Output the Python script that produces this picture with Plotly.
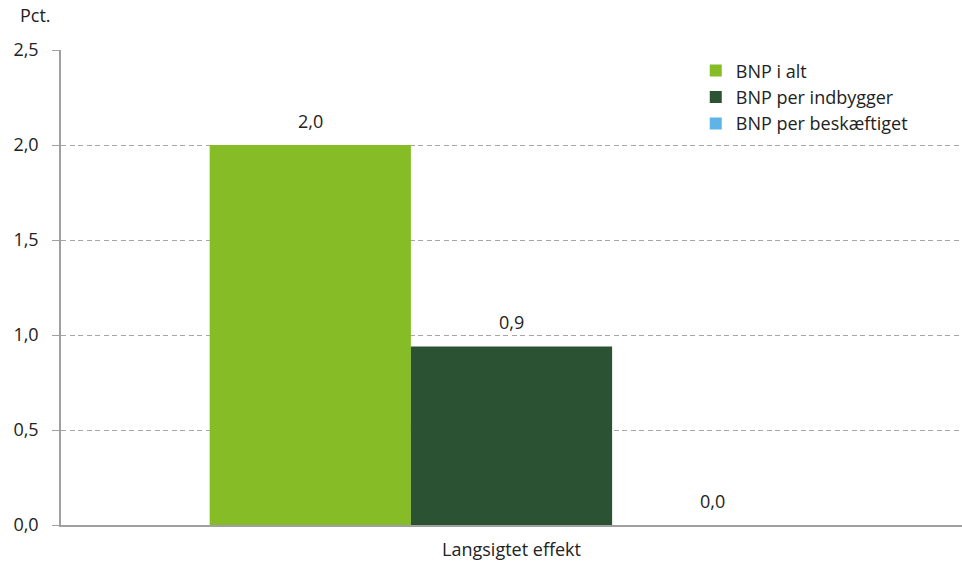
import plotly.graph_objects as go

categories = ["Langsigtet effekt"]
series_names = ["BNP i alt", "BNP per indbygger", "BNP per beskæftiget"]
series_values = [[2.0], [0.94], [0.0]]
series_labels = [["2,0"], ["0,9"], ["0,0"]]
colors = ["#86BC25", "#2C5234", "#5DB4E5"]
y_ticks = [0, 0.5, 1.0, 1.5, 2.0, 2.5]

FONT = "Open Sans"
FS = 18
TXT = "#222222"

x_idx = list(range(len(categories)))

fig = go.Figure()
for name, vals, col in zip(series_names, series_values, colors):
    fig.add_trace(go.Bar(
        x=x_idx, y=vals, name=name, marker=dict(color=col, line=dict(width=0)),
    ))

# value labels above bars (placed via data coordinates)
n = len(series_names)
bargap = 0.33
group_w = 1 - bargap
bar_w = group_w / n
for i, (vals, labs) in enumerate(zip(series_values, series_labels)):
    for j, (v, lab) in enumerate(zip(vals, labs)):
        xpos = x_idx[j] - group_w / 2 + bar_w * (i + 0.5)
        fig.add_annotation(x=xpos, y=v, xref="x", yref="y", text=lab, showarrow=False,
                           yanchor="bottom", yshift=10,
                           font=dict(family=FONT, size=FS, color=TXT))

fig.update_layout(
    width=962, height=567,
    margin=dict(l=61, r=0, t=50, b=42, autoexpand=False),
    barmode="group", bargap=bargap, bargroupgap=0,
    plot_bgcolor="white", paper_bgcolor="white",
    font=dict(family=FONT, size=FS, color=TXT),
    separators=",.",
    showlegend=True,
    legend=dict(x=0.7045, y=0.995, xanchor="left", yanchor="top",
                font=dict(family=FONT, size=FS, color=TXT),
                bgcolor="rgba(255,255,255,0)", itemwidth=30, tracegroupgap=0,
                traceorder="normal"),
    xaxis=dict(range=[-0.5, len(categories) - 0.5], tickvals=x_idx, ticktext=categories,
               showline=True, linecolor="#A0A0A0", linewidth=1.5,
               showgrid=False, zeroline=False, automargin=False,
               ticks="", ticklabelstandoff=8,
               tickfont=dict(family=FONT, size=FS, color=TXT)),
    yaxis=dict(range=[0, 2.5], tickvals=y_ticks, tickformat=".1f",
               showline=True, linecolor="#A0A0A0", linewidth=1.5,
               ticks="outside", ticklen=7, tickcolor="#A0A0A0",
               showgrid=True, gridcolor="#A6A6A6", griddash="5px,3.5px", gridwidth=1,
               zeroline=False, automargin=False, ticklabelstandoff=10,
               tickfont=dict(family=FONT, size=FS, color=TXT)),
)

fig.add_annotation(text="Pct.", xref="paper", yref="paper", x=-0.0477, y=1.0,
                   yshift=35, xanchor="left", yanchor="middle", showarrow=False,
                   font=dict(family=FONT, size=FS, color=TXT))

fig.write_html("out.html", config={"displayModeBar": False},
               post_script="document.body.style.margin='0';document.body.style.overflow='hidden';")
